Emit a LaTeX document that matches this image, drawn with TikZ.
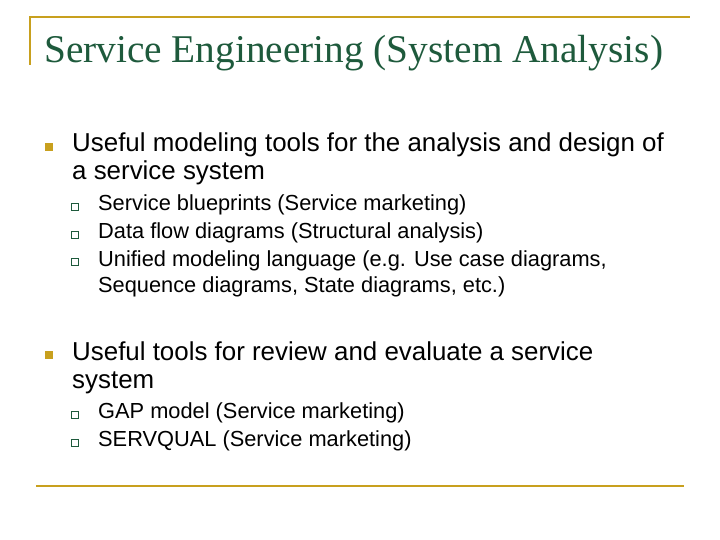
\documentclass[tikz,border=0pt]{standalone}
\usepackage{fontspec}
\setmainfont{Liberation Sans}
\newfontfamily\titlefont{Liberation Serif}
\definecolor{gold}{RGB}{200,160,30}
\definecolor{tgreen}{RGB}{30,90,60}
\begin{document}
\begin{tikzpicture}[x=1pt,y=-1pt,
  main/.style={anchor=base west,inner sep=0pt,font=\fontsize{25.9}{28}\selectfont},
  sub/.style={anchor=base west,inner sep=0pt,font=\fontsize{21.8}{23}\selectfont},
  bul/.style={fill=gold,minimum size=8pt,inner sep=0pt},
  sbul/.style={draw=tgreen,line width=0.8pt,minimum size=6.5pt,inner sep=0pt}]
\useasboundingbox[fill=white] (0,0) rectangle (720,540);
\draw[gold,line width=1.5pt] (30,65) coordinate (a) -- (30,17) coordinate (b) -- (690,17) coordinate (c);
\draw[gold,line width=1.5pt] (36,486) coordinate (d) -- (684,486) coordinate (e);
\node[anchor=base west,inner sep=0pt,text=tgreen,font=\titlefont\fontsize{39.3}{40}\selectfont] (t) at (44,63) {Service Engineering (System Analysis)};
\node[bul] (b1) at (49,147) {};
\node[main] (m1) at (72,152) {Useful modeling tools for the analysis and design of};
\node[main] (m1b) at (72,180) {a service system};
\node[sbul] (s1) at (75,207) {};
\node[sbul] (s2) at (75,235) {};
\node[sbul] (s3) at (75,262) {};
\node[sub] (l1) at (98,211) {Service blueprints (Service marketing)};
\node[sub] (l2) at (98,239) {Data flow diagrams (Structural analysis)};
\node[sub] (l3) at (98,266) {Unified modeling language (e.g. Use case diagrams,};
\node[sub] (l3b) at (98,292) {Sequence diagrams, State diagrams, etc.)};
\node[bul] (b2) at (49,355) {};
\node[main] (m2) at (72,360) {Useful tools for review and evaluate a service};
\node[main] (m2b) at (72,388) {system};
\node[sbul] (s4) at (75,415) {};
\node[sbul] (s5) at (75,443) {};
\node[sub] (l4) at (98,418) {GAP model (Service marketing)};
\node[sub] (l5) at (98,446) {SERVQUAL (Service marketing)};
\end{tikzpicture}
\end{document}
